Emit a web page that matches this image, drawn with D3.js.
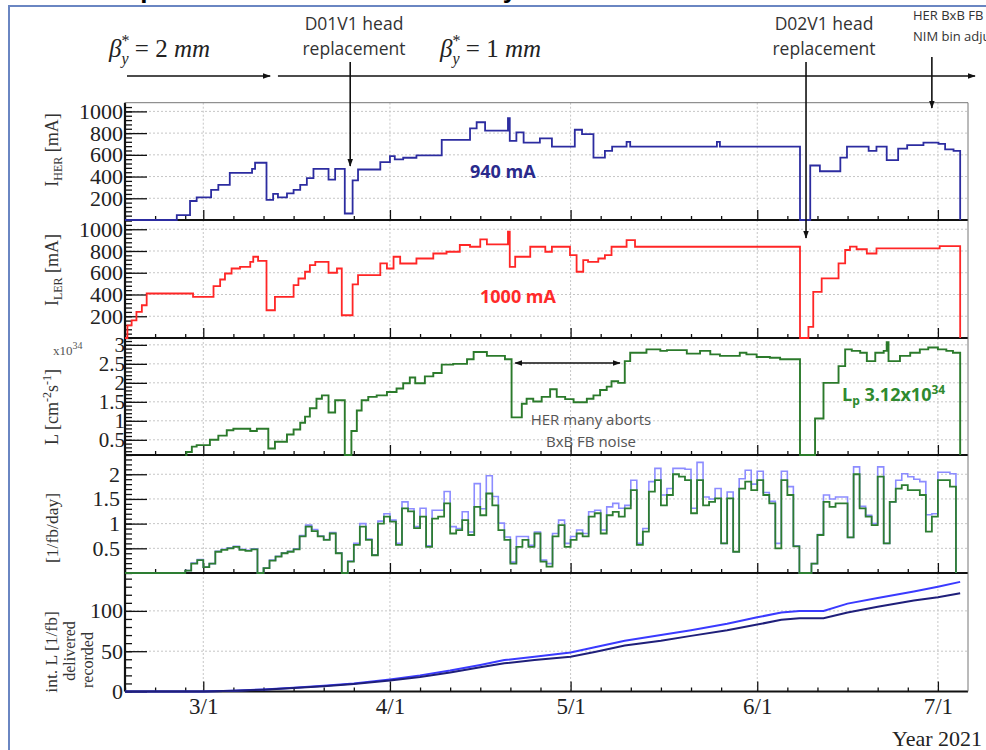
<!DOCTYPE html>
<html>
<head>
<meta charset="utf-8">
<script src="https://cdn.jsdelivr.net/npm/d3@7"></script>
<style>
  body { margin: 0; background: #fff; }
  svg { display: block; }
</style>
</head>
<body>
<svg id="chart"></svg>
<script>
// page size and plot edges
var width = 986, height = 750;
var plotLeft = 125, plotRight = 968;

var serif = "'Liberation Serif','Times New Roman',serif";
var sans = "'Open Sans','Noto Sans',sans-serif";

// all day values are days since 1 March 2021
// HER beam current [mA] (step changes)
var herDays = [-13, -4.4, -2.2, -1.1, 1.3, 2.5, 4.4, 8.1, 8.6, 10.5, 11.6, 12.4, 13.9, 15.0, 16.1, 17.2, 18.3, 20.8, 21.9, 23.5, 24.8, 25.7, 29.4, 31.0, 31.8, 33.2, 35.4, 39.6, 44.3, 45.4, 46.8, 50.6, 50.9, 52.0, 53.2, 55.9, 57.9, 61.7, 62.9, 64.8, 66.7, 67.9, 70.3, 70.9, 85.3, 85.8, 99.1, 100.8, 102.4, 105.8, 106.9, 110.5, 111.8, 113.5, 115.4, 116.9, 119.6, 122.1, 123.2, 124.6, 125.7];
var herCurrent = [0, 45, 175, 209, 278, 324, 433, 471, 527, 185, 240, 209, 246, 278, 324, 386, 471, 371, 471, 60, 365, 465, 533, 589, 558, 573, 595, 738, 844, 900, 822, 938, 729, 807, 713, 751, 676, 831, 791, 574, 636, 676, 720, 676, 720, 676, 0, 502, 449, 574, 676, 636, 676, 551, 657, 689, 713, 700, 651, 636, 0];

// LER beam current [mA]
var lerDays = [-13, -12.6, -11.9, -11.1, -10.2, -9.4, -1.7, 1.7, 2.8, 3.6, 4.7, 6.1, 7.8, 8.3, 9.1, 10.5, 11.9, 15.0, 15.8, 16.9, 17.7, 18.6, 20.8, 22.2, 23.0, 24.8, 25.7, 29.4, 30.5, 31.6, 32.7, 35.4, 38.2, 40.4, 42.6, 44.3, 46.0, 47.1, 50.6, 50.9, 51.8, 54.3, 56.8, 57.9, 60.9, 62.0, 63.1, 63.9, 65.6, 66.7, 67.8, 70.3, 71.7, 99.1, 100.5, 101.3, 102.7, 105.5, 106.6, 107.4, 108.5, 110.2, 111.8, 122.3, 125.7];
var lerCurrent = [0, 117, 162, 240, 301, 409, 378, 477, 538, 593, 639, 654, 700, 747, 710, 255, 378, 486, 547, 609, 670, 700, 600, 639, 209, 494, 578, 686, 639, 747, 685, 731, 777, 793, 855, 839, 906, 860, 978, 654, 747, 839, 793, 839, 762, 609, 716, 700, 731, 762, 839, 900, 839, 0, 102, 424, 548, 686, 809, 840, 816, 777, 824, 845, 0];

// peak luminosity [x10^34 cm-2 s-1]
var lumiDays = [-3, -2.8, -1.9, -1.1, 1.1, 2.5, 3.9, 5.0, 7.8, 8.9, 10.8, 11.9, 13.9, 15.0, 16.1, 16.9, 17.7, 18.8, 19.7, 20.8, 21.9, 23.5, 24.6, 25.5, 26.3, 27.4, 28.8, 30.5, 32.1, 33.2, 34.3, 35.2, 36.8, 38.2, 39.6, 41.5, 43.8, 44.9, 47.1, 50.1, 51.2, 52.9, 53.7, 54.8, 56.2, 57.6, 58.7, 60.1, 61.5, 63.7, 64.8, 65.9, 67.0, 67.8, 68.9, 70.0, 70.9, 73.6, 75.9, 77.0, 80.3, 82.5, 84.2, 85.8, 89.1, 90.2, 91.9, 94.1, 95.8, 99.1, 101.6, 103.0, 105.5, 106.6, 107.7, 109.1, 110.2, 111.6, 113.0, 113.5, 113.8, 115.7, 117.4, 119.0, 120.4, 122.0, 123.4, 124.5, 125.7];
var lumiPeak = [0, 0.18, 0.32, 0.36, 0.5, 0.61, 0.75, 0.79, 0.73, 0.79, 0.27, 0.45, 0.64, 0.77, 0.95, 1.11, 1.33, 1.58, 1.67, 1.22, 1.54, 0, 0.73, 1.27, 1.54, 1.63, 1.67, 1.76, 1.85, 1.99, 2.14, 1.99, 2.17, 2.26, 2.48, 2.5, 2.62, 2.81, 2.71, 2.62, 1.09, 1.45, 1.58, 1.51, 1.63, 1.83, 1.63, 1.57, 1.49, 1.58, 1.67, 1.81, 1.90, 2.04, 2.0, 2.57, 2.79, 2.88, 2.84, 2.86, 2.77, 2.84, 2.75, 2.71, 2.79, 2.75, 2.68, 2.66, 2.62, 0, 1.06, 2.0, 2.44, 2.88, 2.84, 2.79, 2.57, 2.79, 2.84, 3.07, 2.57, 2.71, 2.79, 2.88, 2.93, 2.88, 2.84, 2.79, 0];

// daily integrated luminosity [1/fb/day], one value per day from day -3
var dailyFirstDay = -3;
var dailyRecorded = [0.05,0.19,0.26,0.12,0.19,0.43,0.47,0.5,0.53,0.47, 0.45,0.48,0,0.1,0.25,0.33,0.4,0.43,0.48,0.74,
  0.94,0.85,0.74,0.67,0.8,0.4,0,0.23,0.57,0.94, 0.67,0.36,1.0,1.14,1.04,0.57,1.31,1.25,0.91,1.14,
  0.53,1.1,1.14,1.41,0.8,0.87,1.07,0.77,1.34,1.17, 1.61,1.37,0.87,0.67,0.19,0.53,0.67,0.53,0.8,0.23,
  0.13,0.74,0.97,0.53,0.67,0.8,0.74,1.14,1.21,0.8, 1.17,1.24,1.14,1.31,1.68,0.57,0.84,1.65,1.88,1.37,
  1.58,2.0,1.95,1.88,1.21,1.88,1.37,1.44,1.51,0.6, 1.51,0.43,1.71,1.85,1.68,1.88,1.58,1.41,0.5,1.88,
  1.58,0.54,0,0,0.19,0.77,1.44,1.34,1.41,1.41, 0.72,2.0,1.31,1.14,0.97,1.95,0.6,1.44,1.71,1.78,
  1.68,1.68,1.58,0.84,1.14,1.88,1.88,1.75,0];
var dailyDelivered = [0.05,0.2,0.27,0.12,0.19,0.44,0.48,0.51,0.54,0.48, 0.46,0.49,0,0.1,0.26,0.34,0.41,0.44,0.49,0.76,
  0.97,0.88,0.75,0.68,0.82,0.41,0,0.24,0.6,1.0, 0.69,0.37,1.05,1.2,1.07,0.6,1.44,1.3,0.94,1.31,
  0.55,1.27,1.27,1.65,0.94,0.9,1.24,0.83,1.81,1.3, 1.97,1.55,1.01,0.73,0.22,0.74,0.74,0.56,0.83,0.26,
  0.19,0.8,1.07,0.6,0.74,0.87,0.8,1.24,1.27,0.87, 1.34,1.41,1.31,1.37,1.88,0.6,0.9,1.85,2.12,1.58,
  1.71,2.12,2.12,2.1,1.31,2.24,1.54,1.5,1.71,0.6, 1.64,0.43,1.91,2.08,1.8,2.06,1.63,1.45,0.6,2.06,
  1.75,0.55,0,0,0.19,0.78,1.58,1.5,1.54,1.54, 0.72,2.15,1.35,1.17,1.0,2.15,0.6,1.44,1.88,2.01,
  1.95,1.9,1.85,1.18,1.2,2.04,2.04,2.01,0];

// integrated luminosity [1/fb]
var intDays = [-13, 0, 5, 10, 15, 20, 25, 31, 36, 41, 46, 50, 55, 61, 65, 70, 76, 81, 87, 92, 96, 99, 103, 107, 112, 118, 122, 125.7];
var intDelivered = [0, 0, 1, 2.5, 4.5, 7, 10, 15, 20, 26, 33, 39, 43, 48.5, 55, 63, 70, 76, 84, 92, 98, 100, 100, 109, 116, 124, 130, 136];
var intRecorded = [0, 0, 0.9, 2.3, 4.2, 6.5, 9.3, 13.5, 18, 23.5, 30, 35, 39, 43, 49, 57, 63, 69, 76, 83, 89, 91, 91, 98, 105, 113, 117, 122];

// tick labels
var herTicks = [200, 400, 600, 800, 1000];
var lerTicks = [200, 400, 600, 800, 1000];
var lumiTicks = [0.5, 1, 1.5, 2, 2.5, 3];
var dailyTicks = [0.5, 1, 1.5, 2];
var intTicks = [0, 50, 100];
var monthLabels = ["3/1", "4/1", "5/1", "6/1", "7/1"];

// event markers (days since 1 March)
var d01v1Day = 24.4, d02v1Day = 100.1, herBxbDay = 121.0;


var svg = d3.select("#chart").attr("width", width).attr("height", height);
svg.append("rect").attr("width", width).attr("height", height).attr("fill", "#fff");

var march1 = new Date(2021, 2, 1);
function dayDate(t) { return new Date(march1.getTime() + t * 864e5); }

var x = d3.scaleTime()
  .domain([new Date(2021, 1, 16), new Date(2021, 6, 6)])
  .range([plotLeft, plotRight]);
function xd(t) { return x(dayDate(t)); }

var monthTicks = d3.timeMonth.range(new Date(2021, 2, 1), new Date(2021, 6, 2));
var fiveDayTicks = d3.timeDay.range(x.domain()[0], x.domain()[1]).filter(function(d) {
  var dd = d.getDate();
  return dd !== 1 && dd !== 31 && (dd - 1) % 5 === 0;
});

var defs = svg.append("defs");
defs.append("marker")
  .attr("id", "head")
  .attr("viewBox", "0 0 10 10")
  .attr("refX", 9).attr("refY", 5)
  .attr("markerUnits", "userSpaceOnUse")
  .attr("markerWidth", 8).attr("markerHeight", 8)
  .attr("orient", "auto-start-reverse")
  .append("path").attr("d", "M0,1.5 L10,5 L0,8.5 z").attr("fill", "#111");

// slide frame + clipped title
svg.append("text")
  .attr("x", 120).attr("y", -2)
  .attr("font-family", "'Liberation Sans',Arial,sans-serif")
  .attr("font-weight", "bold").attr("font-size", 26)
  .text("Operation status and luminosity");
svg.append("path")
  .attr("d", "M9,750 V6 H986")
  .attr("fill", "none").attr("stroke", "#6a86c2").attr("stroke-width", 2);

// panels
var panels = [
  {top: 102.7, bottom: 220, domain: [0, 1080], ticks: herTicks, minor: 40, pad: 2, fs: 22},
  {top: 220, bottom: 338, domain: [0, 1085], ticks: lerTicks, minor: 40, pad: 2, fs: 22},
  {top: 338, bottom: 455, domain: [0.1, 3.18], ticks: lumiTicks, minor: 0.1, pad: 0, fs: 21},
  {top: 455, bottom: 573, domain: [0, 2.39], ticks: dailyTicks, minor: 0.1, pad: 5, fs: 22},
  {top: 573, bottom: 691.5, domain: [0, 147], ticks: intTicks, minor: 10, pad: 2, fs: 22}
];

var grid = svg.append("g");
var axes = svg.append("g");
var marks = svg.append("g");

panels.forEach(function(p, i) {
  p.y = d3.scaleLinear().domain(p.domain).range([p.bottom, p.top]).clamp(true);

  // grid lines
  grid.selectAll(null).data(p.ticks.filter(function(d) { return d > p.domain[0]; }))
    .enter().append("line")
      .attr("x1", plotLeft).attr("x2", plotRight)
      .attr("y1", function(d) { return p.y(d); }).attr("y2", function(d) { return p.y(d); })
      .attr("stroke", "#c6c6c6").attr("stroke-dasharray", "2,2");
  grid.selectAll(null).data(monthTicks)
    .enter().append("line")
      .attr("x1", function(d) { return x(d); }).attr("x2", function(d) { return x(d); })
      .attr("y1", p.top).attr("y2", p.bottom)
      .attr("stroke", "#c6c6c6").attr("stroke-dasharray", "2,2");

  // y minor ticks
  var minorVals = d3.range(Math.ceil(p.domain[0] / p.minor - 1e-6) * p.minor, p.domain[1], p.minor);
  axes.append("g")
    .attr("transform", "translate(" + plotLeft + ",0)")
    .call(d3.axisLeft(p.y).tickValues(minorVals).tickSize(-7).tickSizeOuter(0).tickFormat(""))
    .call(function(g) { g.select(".domain").remove(); });

  // y major ticks + labels
  var ya = axes.append("g")
    .attr("transform", "translate(" + plotLeft + ",0)")
    .call(d3.axisLeft(p.y).tickValues(p.ticks).tickSize(-22).tickSizeOuter(0).tickPadding(p.pad)
      .tickFormat(function(d) { return String(d); }))
    .call(function(g) { g.select(".domain").remove(); });
  ya.attr("font-family", serif).attr("font-size", p.fs);
  ya.selectAll("text").attr("fill", "#222");

  // x ticks on the bottom edge
  axes.append("g")
    .attr("transform", "translate(0," + p.bottom + ")")
    .call(d3.axisBottom(x).tickValues(fiveDayTicks).tickSize(-4).tickSizeOuter(0).tickFormat(""))
    .call(function(g) { g.select(".domain").remove(); });
  var xa = axes.append("g")
    .attr("transform", "translate(0," + p.bottom + ")")
    .call(d3.axisBottom(x).tickValues(monthTicks).tickSize(-10).tickSizeOuter(0).tickPadding(6)
      .tickFormat(function(d, j) { return i === panels.length - 1 ? monthLabels[j] : ""; }))
    .call(function(g) { g.select(".domain").remove(); });
  xa.attr("font-family", serif).attr("font-size", 23);
  xa.selectAll("text").attr("fill", "#222");

  axes.selectAll(".tick line").attr("stroke", "#111").attr("stroke-width", 1.3);

  // bottom axis line
  axes.append("line")
    .attr("x1", plotLeft).attr("x2", plotRight)
    .attr("y1", p.bottom).attr("y2", p.bottom)
    .attr("stroke", "#111").attr("stroke-width", 2);
});

// left axis + right/top frame
axes.append("line")
  .attr("x1", plotLeft).attr("x2", plotLeft)
  .attr("y1", panels[0].top).attr("y2", panels[4].bottom)
  .attr("stroke", "#111").attr("stroke-width", 2.2);
axes.append("path")
  .attr("d", "M" + plotLeft + "," + panels[0].top + " H" + plotRight + " V" + panels[4].bottom)
  .attr("fill", "none").attr("stroke", "#777").attr("stroke-width", 1);

// data
function stepPath(y, pts) {
  return d3.line().curve(d3.curveStepAfter)
    .x(function(d) { return xd(d[0]); })
    .y(function(d) { return y(d[1]); })(pts);
}
function linePath(y, pts) {
  return d3.line()
    .x(function(d) { return xd(d[0]); })
    .y(function(d) { return y(d[1]); })(pts);
}

marks.append("path")
  .attr("d", stepPath(panels[0].y, d3.zip(herDays, herCurrent)))
  .attr("fill", "none").attr("stroke", "#2c2ca0").attr("stroke-width", 1.8);

marks.append("path")
  .attr("d", stepPath(panels[1].y, d3.zip(lerDays, lerCurrent)))
  .attr("fill", "none").attr("stroke", "#ff2626").attr("stroke-width", 1.8);

marks.append("path")
  .attr("d", stepPath(panels[2].y, d3.zip(lumiDays, lumiPeak)))
  .attr("fill", "none").attr("stroke", "#2b7a2b").attr("stroke-width", 1.9);

function dailyPoints(vals) {
  var pts = [[-13, 0]];
  vals.forEach(function(v, i) { pts.push([dailyFirstDay + i, v]); });
  return pts;
}
marks.append("path")
  .attr("d", stepPath(panels[3].y, dailyPoints(dailyDelivered)))
  .attr("fill", "none").attr("stroke", "#8c8cff").attr("stroke-width", 1.6);
marks.append("path")
  .attr("d", stepPath(panels[3].y, dailyPoints(dailyRecorded)))
  .attr("fill", "none").attr("stroke", "#2d7d32").attr("stroke-width", 1.8);

marks.append("path")
  .attr("d", linePath(panels[4].y, d3.zip(intDays, intDelivered)))
  .attr("fill", "none").attr("stroke", "#3a3aff").attr("stroke-width", 2);
marks.append("path")
  .attr("d", linePath(panels[4].y, d3.zip(intDays, intRecorded)))
  .attr("fill", "none").attr("stroke", "#1f1f7a").attr("stroke-width", 2);

// y axis titles (rotated)
function yTitle(cx, cy, size, build) {
  var t = svg.append("text")
    .attr("transform", "translate(" + cx + "," + cy + ") rotate(-90)")
    .attr("text-anchor", "middle")
    .attr("font-family", serif).attr("font-size", size).attr("fill", "#333");
  build(t);
}
yTitle(58, 150, 18, function(t) {
  t.append("tspan").text("I");
  t.append("tspan").attr("font-size", 12).attr("dy", 4).text("HER");
  t.append("tspan").attr("dy", -4).text(" [mA]");
});
yTitle(58, 270, 18, function(t) {
  t.append("tspan").text("I");
  t.append("tspan").attr("font-size", 12).attr("dy", 4).text("LER");
  t.append("tspan").attr("dy", -4).text(" [mA]");
});
yTitle(58, 407, 18, function(t) {
  t.append("tspan").text("L [cm");
  t.append("tspan").attr("font-size", 12).attr("dy", -7).text("-2");
  t.append("tspan").attr("dy", 7).text("s");
  t.append("tspan").attr("font-size", 12).attr("dy", -7).text("-1");
  t.append("tspan").attr("dy", 7).text("]");
});
yTitle(58, 528, 17.5, function(t) { t.text("[1/fb/day]"); });
yTitle(57, 652, 17.5, function(t) { t.text("int. L [1/fb]"); });
yTitle(75, 651, 16, function(t) { t.text("delivered"); });
yTitle(93, 660, 16, function(t) { t.text("recorded"); });

var expo = svg.append("text").attr("x", 53).attr("y", 355)
  .attr("font-family", serif).attr("font-size", 13).attr("fill", "#555");
expo.append("tspan").text("x10");
expo.append("tspan").attr("font-size", 10).attr("dy", -6).text("34");

svg.append("text").attr("x", 892).attr("y", 746)
  .attr("font-family", serif).attr("font-size", 22).attr("fill", "#222")
  .text("Year 2021");

// beta* regions
function betaLabel(bx, val) {
  var t = svg.append("text").attr("x", bx).attr("y", 57)
    .attr("font-family", serif).attr("font-size", 25).attr("fill", "#222");
  t.append("tspan").attr("font-style", "italic").text("β");
  t.append("tspan").attr("font-size", 16).attr("dy", -11).text("*");
  t.append("tspan").attr("font-size", 16).attr("font-style", "italic").attr("dx", -8).attr("dy", 18).text("y");
  t.append("tspan").attr("dy", -7).text(" = " + val + " ");
  t.append("tspan").attr("font-style", "italic").text("mm");
}
betaLabel(109, 2);
betaLabel(440, 1);

svg.append("line")
  .attr("x1", 127).attr("x2", xd(11.1)).attr("y1", 76).attr("y2", 76)
  .attr("stroke", "#111").attr("stroke-width", 1.6).attr("marker-end", "url(#head)");
svg.append("line")
  .attr("x1", xd(12.4)).attr("x2", 975).attr("y1", 76).attr("y2", 76)
  .attr("stroke", "#111").attr("stroke-width", 1.6).attr("marker-end", "url(#head)");

// event annotations
function eventNote(lines, tx, ys, size, anchor, day, y1, y2) {
  lines.forEach(function(s, k) {
    svg.append("text").attr("x", tx).attr("y", ys[k])
      .attr("text-anchor", anchor)
      .attr("font-family", sans).attr("font-size", size).attr("fill", "#333")
      .text(s);
  });
  svg.append("line")
    .attr("x1", xd(day)).attr("x2", xd(day)).attr("y1", y1).attr("y2", y2)
    .attr("stroke", "#111").attr("stroke-width", 1.6).attr("marker-end", "url(#head)");
}
eventNote(["D01V1 head", "replacement"], 354, [30, 55], 17.5, "middle", d01v1Day, 62, 166);
eventNote(["D02V1 head", "replacement"], 824, [30, 55], 17.5, "middle", d02v1Day, 62, 238);
eventNote(["HER BxB FB", "NIM bin adjust"], 913, [20, 41], 13, "start", herBxbDay, 57, 108);

// in-panel notes
svg.append("text").attr("x", 470).attr("y", 178)
  .attr("font-family", sans).attr("font-weight", "bold").attr("font-size", 18)
  .attr("fill", "#2a2a8c").text("940 mA");
svg.append("text").attr("x", 480).attr("y", 303)
  .attr("font-family", sans).attr("font-weight", "bold").attr("font-size", 18)
  .attr("fill", "#ff2a2a").text("1000 mA");

svg.append("line")
  .attr("x1", xd(51.8)).attr("x2", xd(69.2)).attr("y1", 363).attr("y2", 363)
  .attr("stroke", "#111").attr("stroke-width", 1.5)
  .attr("marker-start", "url(#head)").attr("marker-end", "url(#head)");
svg.append("text").attr("x", 591).attr("y", 425).attr("text-anchor", "middle")
  .attr("font-family", sans).attr("font-size", 15).attr("fill", "#555").text("HER many aborts");
svg.append("text").attr("x", 591).attr("y", 447).attr("text-anchor", "middle")
  .attr("font-family", sans).attr("font-size", 15).attr("fill", "#555").text("BxB FB noise");

var lp = svg.append("text").attr("x", 842).attr("y", 401)
  .attr("font-family", sans).attr("font-weight", "bold").attr("font-size", 18)
  .attr("fill", "#2f8a2f");
lp.append("tspan").text("L");
lp.append("tspan").attr("font-size", 12).attr("dy", 4).text("p");
lp.append("tspan").attr("dy", -4).text(" 3.12x10");
lp.append("tspan").attr("font-size", 12).attr("dy", -7).text("34");
</script>
</body>
</html>
